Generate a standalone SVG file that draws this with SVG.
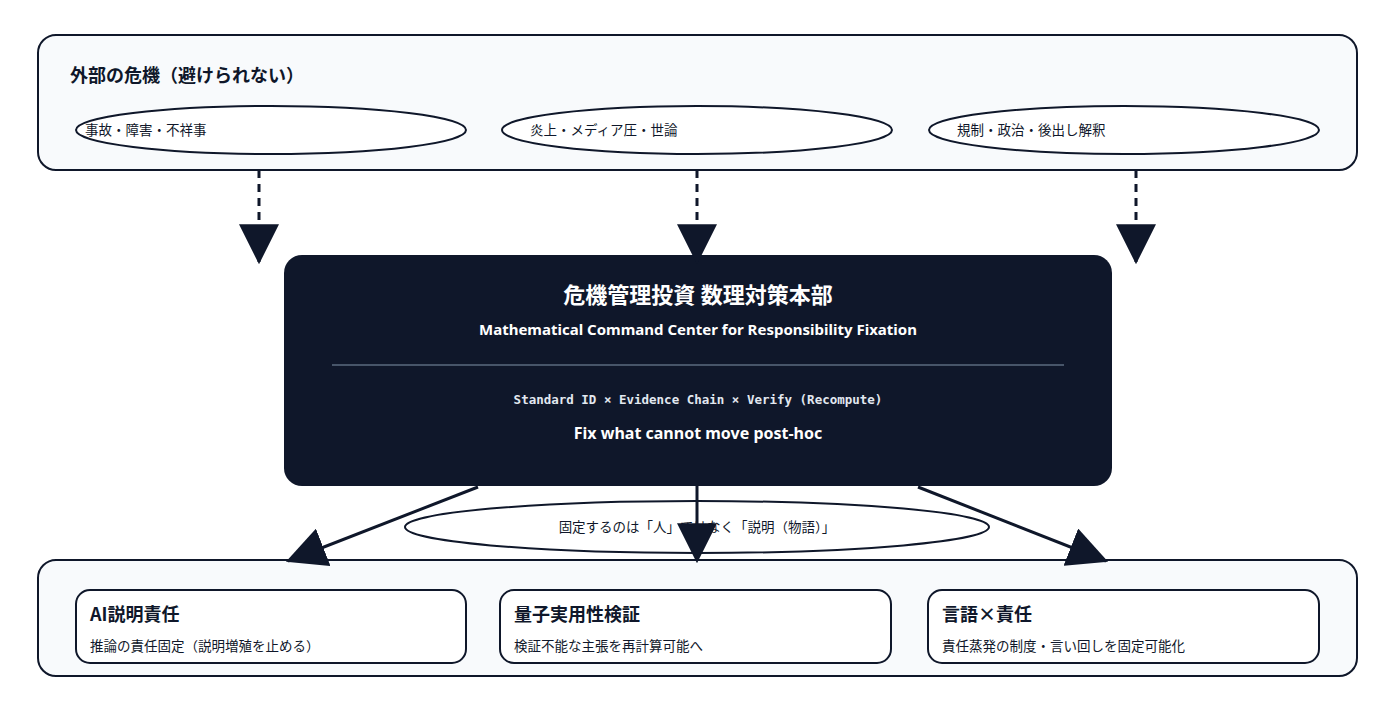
<svg xmlns="http://www.w3.org/2000/svg" width="1400" height="706" viewBox="0 0 1400 706">
<style>
.panel{fill:#f8fafc;stroke:#0f172a;stroke-width:2}
.ell{fill:#fff;stroke:#0f172a;stroke-width:2}
.card{fill:#fff;stroke:#0f172a;stroke-width:2}
.t{font-family:"Noto Sans CJK JP","Noto Sans",sans-serif;fill:#0f172a}
.h{font-weight:bold;font-size:18px}
.s{font-size:13.5px}
.w{fill:#fff;font-family:"Noto Sans","Noto Sans CJK JP",sans-serif;font-weight:bold;text-anchor:middle}
.ln{stroke:#0f172a;stroke-width:3;fill:none}
</style>
<defs>
<marker id="ah" markerUnits="userSpaceOnUse" markerWidth="40" markerHeight="40" viewBox="0 0 36 36" refX="34" refY="18" orient="auto"><path d="M0,0L36,18L0,36z" fill="#0f172a"/></marker>
</defs>
<g id="external">
<rect class="panel" x="38" y="35" width="1319" height="135" rx="18"/>
<text class="t h" x="70" y="82">外部の危機（避けられない）</text>
<ellipse class="ell" cx="271" cy="130" rx="195" ry="24"/>
<text class="t s" x="85" y="135">事故・障害・不祥事</text>
<ellipse class="ell" cx="697" cy="130" rx="195" ry="24"/>
<text class="t s" x="530" y="135">炎上・メディア圧・世論</text>
<ellipse class="ell" cx="1124" cy="130" rx="195" ry="24"/>
<text class="t s" x="957" y="135">規制・政治・後出し解釈</text>
</g>
<g id="hq">
<rect x="284" y="255" width="828" height="231" rx="18" fill="#0f172a"/>
<text class="w" x="698" y="303" font-size="22">危機管理投資 数理対策本部</text>
<text class="w" x="698" y="335" font-size="15">Mathematical Command Center for Responsibility Fixation</text>
<line x1="332" y1="365" x2="1064" y2="365" stroke="#475569" stroke-width="2"/>
<text x="698" y="404" font-family="'DejaVu Sans Mono','Liberation Mono',monospace" font-weight="bold" font-size="12.5" fill="#e2e8f0" text-anchor="middle">Standard ID × Evidence Chain × Verify (Recompute)</text>
<text class="w" x="698" y="439" font-size="16">Fix what cannot move post-hoc</text>
</g>
<g id="bottom">
<rect class="panel" x="38" y="560" width="1319" height="116" rx="18"/>
<rect class="card" x="76" y="590" width="390" height="73" rx="14"/>
<text class="t h" x="90" y="621">AI説明責任</text>
<text class="t s" x="90" y="651">推論の責任固定（説明増殖を止める）</text>
<rect class="card" x="500" y="590" width="391" height="73" rx="14"/>
<text class="t h" x="514" y="621">量子実用性検証</text>
<text class="t s" x="514" y="651">検証不能な主張を再計算可能へ</text>
<rect class="card" x="928" y="590" width="391" height="73" rx="14"/>
<text class="t h" x="942" y="621">言語×責任</text>
<text class="t s" x="942" y="651">責任蒸発の制度・言い回しを固定可能化</text>
</g>
<g id="note">
<ellipse class="ell" cx="697" cy="527" rx="292" ry="26"/>
<text class="t s" x="697" y="532" text-anchor="middle">固定するのは「人」ではなく「説明（物語）」</text>
</g>
<g id="connectors">
<line class="ln" x1="259" y1="170" x2="259" y2="262" stroke-dasharray="8,6" marker-end="url(#ah)"/>
<line class="ln" x1="697" y1="170" x2="697" y2="262" stroke-dasharray="8,6" marker-end="url(#ah)"/>
<line class="ln" x1="1136" y1="170" x2="1136" y2="262" stroke-dasharray="8,6" marker-end="url(#ah)"/>
<line class="ln" x1="478" y1="487" x2="288" y2="561" marker-end="url(#ah)"/>
<line class="ln" x1="697" y1="486" x2="697" y2="561" marker-end="url(#ah)"/>
<line class="ln" x1="918" y1="487" x2="1106" y2="561" marker-end="url(#ah)"/>
</g>
</svg>
